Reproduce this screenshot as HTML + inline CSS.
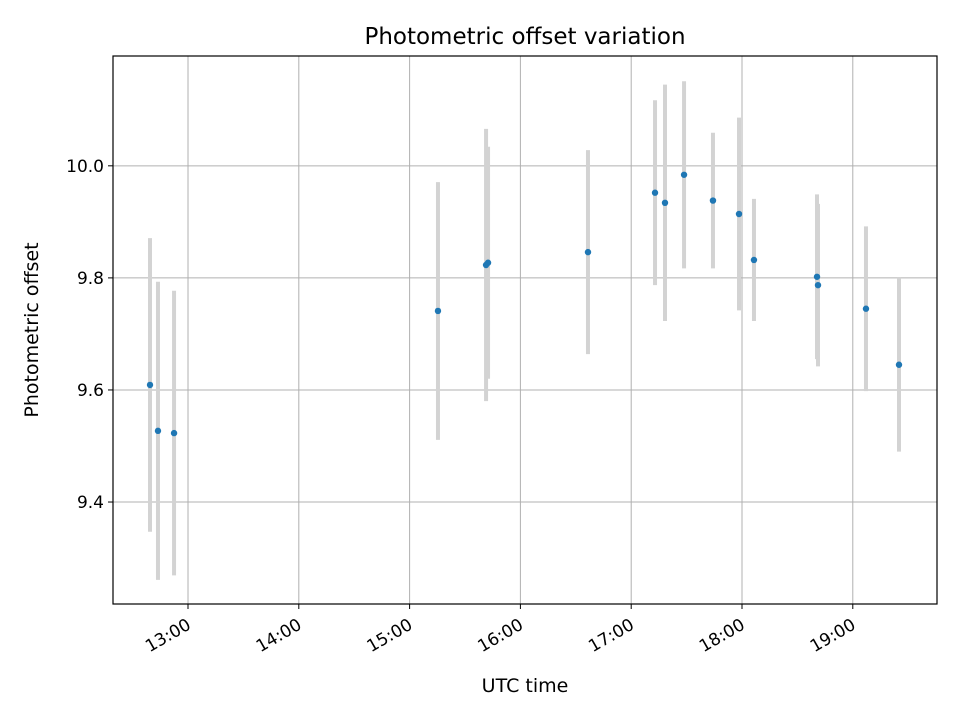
<!DOCTYPE html>
<html><head><meta charset="utf-8"><style>
body{margin:0;background:#fff;}
svg{display:block;font-family:"DejaVu Sans","Liberation Sans",sans-serif;}
</style></head><body>
<svg id="chart" width="960" height="720" viewBox="0 0 960 720">
<rect width="960" height="720" fill="#fff"/>
<g id="grid"></g>
<g id="bars"></g>
<g id="pts"></g>
<rect x="113" y="56" width="824" height="548" fill="none" stroke="#000" stroke-width="1.2"/>
<g id="xt"></g><g id="yt"></g>
<text x="525" y="44" font-size="23" text-anchor="middle">Photometric offset variation</text>
<text x="525" y="692" font-size="19" text-anchor="middle">UTC time</text>
<text transform="translate(38,330) rotate(-90)" font-size="19" text-anchor="middle">Photometric offset</text>
</svg>
<script>
const times=[12.657,12.729,12.874,15.256,15.690,15.708,16.610,17.215,17.305,17.477,17.738,17.973,18.108,18.677,18.686,19.119,19.417];
const offsets=[9.609,9.527,9.523,9.741,9.823,9.827,9.846,9.952,9.934,9.984,9.938,9.914,9.832,9.802,9.787,9.745,9.645];
const errors=[0.262,0.266,0.254,0.230,0.243,0.207,0.182,0.165,0.211,0.167,0.121,0.172,0.109,0.147,0.145,0.147,0.155];
const xTicks=[13,14,15,16,17,18,19];
const xTickLabels=["13:00","14:00","15:00","16:00","17:00","18:00","19:00"];
const yTicks=[9.4,9.6,9.8,10.0];
const yTickLabels=["9.4","9.6","9.8","10.0"];
const NS="http://www.w3.org/2000/svg";
const L=113,R=937,T=56,B=604,x0=12.323,x1=19.760,y0=9.218,y1=10.196;
const sx=v=>L+(v-x0)/(x1-x0)*(R-L);
const sy=v=>B-(v-y0)/(y1-y0)*(B-T);
function mk(p,tag,a){const e=document.createElementNS(NS,tag);for(const k in a)e.setAttribute(k,a[k]);document.getElementById(p).appendChild(e);return e;}
xTicks.forEach((t,i)=>{const x=sx(t);
 let g=mk('grid','line',{x1:x,x2:x,y1:T,y2:B,stroke:'#b0b0b0','stroke-width':1});
 
 
 let k=mk('xt','line',{x1:x,x2:x,y1:B,y2:B+5,stroke:'#000'});
 
 
 const ax=x+4,ay=B+24;
 let tx=mk('xt','text',{x:ax,y:ay,'font-size':17,'text-anchor':'end',transform:`rotate(-30 ${ax} ${ay})`});
 tx.textContent=xTickLabels[i];
 
 
});
yTicks.forEach((t,i)=>{const y=sy(t);
 let g=mk('grid','line',{x1:L,x2:R,y1:y,y2:y,stroke:'#b0b0b0','stroke-width':1});
 
 
 let k=mk('yt','line',{x1:L-5,x2:L,y1:y,y2:y,stroke:'#000'});
 
 
 let tx=mk('yt','text',{x:L-9,y:y+6,'font-size':17,'text-anchor':'end'});
 tx.textContent=yTickLabels[i];
 
 
});
times.forEach((t,i)=>{const x=sx(t);
 let b=mk('bars','line',{x1:x,x2:x,y1:sy(offsets[i]+errors[i]),y2:sy(offsets[i]-errors[i]),stroke:'#d3d3d3','stroke-width':4});
 
 
 let c=mk('pts','circle',{cx:x,cy:sy(offsets[i]),r:3.2,fill:'#1f77b4'});
 
 
});
</script>
</body></html>
